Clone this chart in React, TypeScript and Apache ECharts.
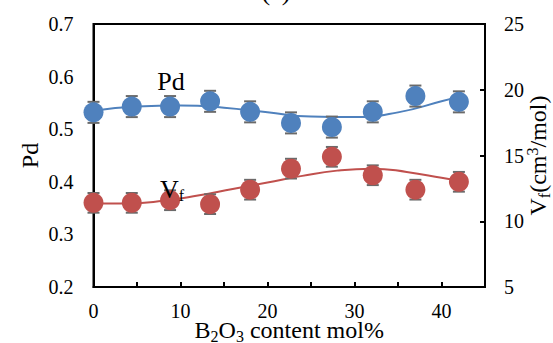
import React, { useEffect, useRef } from "react";
import * as echarts from "echarts";

const xValues = [0, 4.4, 8.8, 13.4, 18.0, 22.7, 27.4, 32.1, 37.0, 42.0];
const pdValues = [0.532, 0.543, 0.543, 0.553, 0.533, 0.512, 0.504, 0.533, 0.563, 0.552];
const vfValues = [11.4, 11.4, 11.6, 11.3, 12.4, 14.0, 14.9, 13.5, 12.4, 13.0];
const pdError = 0.02;
const vfError = 0.75;
const pdTrendX = [0, 5, 10, 15, 20, 25, 30, 35, 40, 42];
const pdTrendY = [0.535, 0.543, 0.545, 0.541, 0.532, 0.524, 0.523, 0.532, 0.553, 0.562];
const vfTrendX = [0, 4, 8, 12, 16, 20, 24, 28, 32, 36, 40, 42];
const vfTrendY = [11.35, 11.35, 11.55, 11.95, 12.45, 12.95, 13.45, 13.85, 14.0, 13.75, 13.3, 13.05];
const xTicks = [0, 10, 20, 30, 40];

const FONT = "'Liberation Serif', serif";
const BLUE = "#4F81BD";
const RED = "#C0504D";
const ERR = "#6a6a6a";

const main = { fontSize: 24, fontFamily: FONT, color: "#000", lineHeight: 28, verticalAlign: "middle" as const };
const sub = { fontSize: 16, fontFamily: FONT, color: "#000", lineHeight: 16, verticalAlign: "bottom" as const };
const sup = { fontSize: 16, fontFamily: FONT, color: "#000", lineHeight: 16, verticalAlign: "top" as const };

function errRender(params: any, api: any) {
  const x = api.value(0);
  const y = api.value(1);
  const e = api.value(2);
  const t = api.coord([x, y + e]);
  const b = api.coord([x, y - e]);
  const w = 6;
  const st = { stroke: ERR, lineWidth: 2 };
  return {
    type: "group",
    children: [
      { type: "line", shape: { x1: t[0], y1: t[1], x2: b[0], y2: b[1] }, style: st },
      { type: "line", shape: { x1: t[0] - w, y1: t[1], x2: t[0] + w, y2: t[1] }, style: st },
      { type: "line", shape: { x1: b[0] - w, y1: b[1], x2: b[0] + w, y2: b[1] }, style: st },
    ],
  };
}

export default function App() {
  const ref = useRef<HTMLDivElement>(null);
  useEffect(() => {
    document.body.style.margin = "0";
    if (!ref.current) return;
    const chart = echarts.init(ref.current, null, { renderer: "svg" });
    const axisLine = { show: true, lineStyle: { color: "#000", width: 2 } };
    const label = { color: "#000", fontSize: 20, fontFamily: FONT };
    chart.setOption({
      animation: false,
      grid: {
        left: 93.5, right: 68, top: 24, bottom: 56,
        containLabel: false,
        outerBoundsMode: "none",
        show: true, borderColor: "#000", borderWidth: 2,
      },
      xAxis: {
        type: "value", min: 0, max: 45, interval: 5,
        axisLine, splitLine: { show: false },
        axisTick: { show: true, inside: true, length: 5, lineStyle: { color: "#000", width: 2 } },
        axisLabel: {
          ...label, margin: 14,
          formatter: (v: number) => (xTicks.includes(v) ? String(v) : ""),
        },
        name: "{n|B}{s|2}{n|O}{s|3}{n| content mol%}",
        nameLocation: "middle", nameGap: 29, nameMoveOverlap: false,
        nameTextStyle: { rich: { n: main, s: sub } },
      },
      yAxis: [
        {
          type: "value", min: 0.2, max: 0.7, interval: 0.1,
          axisLine, splitLine: { show: false },
          axisTick: { show: false },
          axisLabel: { ...label, margin: 20, formatter: (v: number) => v.toFixed(1) },
          name: "Pd", nameLocation: "middle", nameRotate: 90, nameGap: 52, nameMoveOverlap: false,
          nameTextStyle: { fontSize: 24, fontFamily: FONT, color: "#000" },
        },
        {
          type: "value", min: 5, max: 25, interval: 5, position: "right",
          axisLine, splitLine: { show: false },
          axisTick: { show: true, inside: true, length: 5, lineStyle: { color: "#000", width: 2 } },
          axisLabel: { ...label, margin: 19 },
          name: "{n|V}{s|f}{n|(cm}{p|3}{n|/mol)}",
          nameLocation: "middle", nameRotate: 90, nameGap: 39, nameMoveOverlap: false,
          nameTextStyle: { rich: { n: main, s: sub, p: sup } },
        },
      ],
      graphic: [
        {
          type: "text", x: 276, y: 4,
          style: { text: "(a)", font: `26px ${FONT}`, fill: "#000", align: "center", verticalAlign: "bottom" },
        },
        {
          type: "text", x: 171, y: 81, z: 10,
          style: { text: "Pd", font: `26px ${FONT}`, fill: "#000", align: "center", verticalAlign: "middle" },
        },
        {
          type: "text", x: 160, y: 189, z: 10,
          style: {
            text: "{n|V}{s|f}", align: "left", verticalAlign: "middle",
            rich: { n: { ...main, fontSize: 26 }, s: sub },
          },
        },
      ],
      series: [
        {
          type: "line", data: pdTrendX.map((x, i) => [x, pdTrendY[i]]),
          smooth: true, showSymbol: false, symbol: "none", z: 1,
          lineStyle: { color: BLUE, width: 2 }, silent: true,
        },
        {
          type: "line", yAxisIndex: 1, data: vfTrendX.map((x, i) => [x, vfTrendY[i]]),
          smooth: true, showSymbol: false, symbol: "none", z: 1,
          lineStyle: { color: RED, width: 2 }, silent: true,
        },
        {
          type: "custom", renderItem: errRender, z: 2,
          encode: { x: 0, y: 1 },
          data: xValues.map((x, i) => [x, pdValues[i], pdError]),
        },
        {
          type: "custom", renderItem: errRender, z: 2, yAxisIndex: 1,
          encode: { x: 0, y: 1 },
          data: xValues.map((x, i) => [x, vfValues[i], vfError]),
        },
        {
          type: "scatter", symbolSize: 20, z: 3,
          itemStyle: { color: BLUE, opacity: 1 },
          data: xValues.map((x, i) => [x, pdValues[i]]),
        },
        {
          type: "scatter", symbolSize: 20, z: 3, yAxisIndex: 1,
          itemStyle: { color: RED, opacity: 1 },
          data: xValues.map((x, i) => [x, vfValues[i]]),
        },
      ],
    });
    return () => chart.dispose();
  }, []);
  return <div ref={ref} style={{ width: 553, height: 343 }} />;
}
